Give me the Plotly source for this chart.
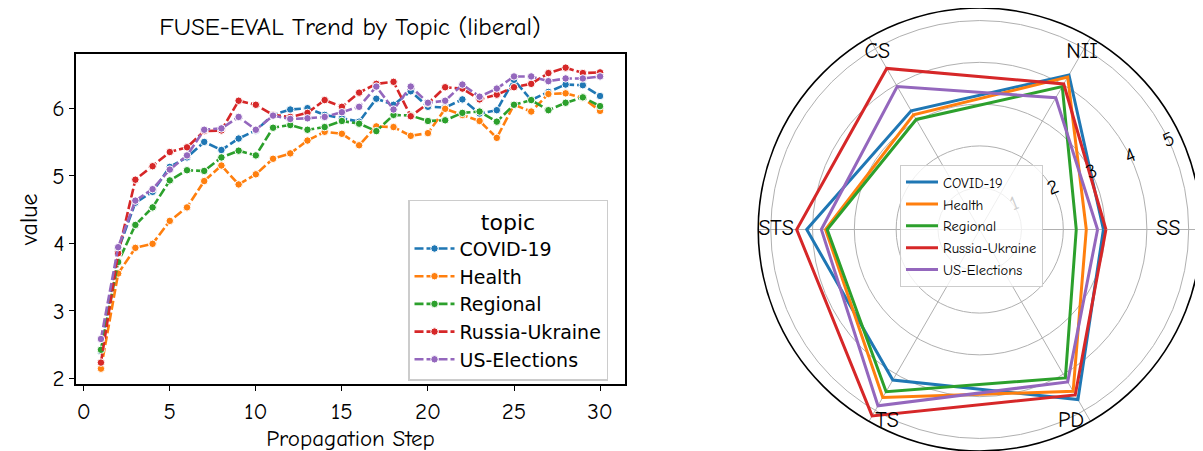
import plotly.graph_objects as go

# ---------------- data ----------------
steps = list(range(1, 31))
topics = ["COVID-19", "Health", "Regional", "Russia-Ukraine", "US-Elections"]
colors = ["#1f77b4", "#ff7f0e", "#2ca02c", "#d62728", "#9467bd"]

covid = [2.40, 3.90, 4.60, 4.76, 5.13, 5.27, 5.50, 5.38, 5.55, 5.67,
         5.90, 5.98, 6.00, 5.90, 5.85, 5.80, 6.14, 6.05, 6.25, 6.02,
         6.01, 6.13, 5.92, 5.97, 6.42, 6.12, 6.24, 6.35, 6.34, 6.18]
health = [2.14, 3.55, 3.93, 3.99, 4.33, 4.53, 4.92, 5.15, 4.87, 5.02,
          5.25, 5.33, 5.52, 5.65, 5.62, 5.45, 5.73, 5.72, 5.59, 5.63,
          5.99, 5.90, 5.81, 5.56, 6.05, 5.95, 6.21, 6.22, 6.15, 5.96]
regional = [2.42, 3.72, 4.27, 4.53, 4.93, 5.08, 5.07, 5.27, 5.37, 5.30,
            5.71, 5.75, 5.68, 5.72, 5.81, 5.77, 5.66, 5.90, 5.89, 5.81,
            5.82, 5.93, 5.95, 5.80, 6.05, 6.12, 5.97, 6.08, 6.16, 6.03]
russia = [2.23, 3.85, 4.94, 5.14, 5.35, 5.42, 5.66, 5.67, 6.11, 6.05,
          5.90, 5.87, 5.93, 6.12, 6.02, 6.23, 6.36, 6.39, 5.88, 6.07,
          6.31, 6.29, 6.13, 6.20, 6.31, 6.36, 6.52, 6.60, 6.52, 6.53]
uselect = [2.58, 3.94, 4.63, 4.80, 5.09, 5.30, 5.68, 5.70, 5.87, 5.68,
           5.89, 5.84, 5.85, 5.87, 5.94, 6.02, 6.32, 5.98, 6.32, 6.08,
           6.11, 6.35, 6.17, 6.29, 6.47, 6.47, 6.40, 6.44, 6.44, 6.47]
trend_series = [covid, health, regional, russia, uselect]

x_ticks = [0, 5, 10, 15, 20, 25, 30]
y_ticks = [2, 3, 4, 5, 6]

radar_cats = ["SS", "NII", "CS", "STS", "TS", "PD"]
radar_covid = [2.96, 4.27, 3.28, 4.14, 4.16, 4.70]
radar_health = [2.55, 4.21, 3.17, 3.69, 4.64, 4.47]
radar_regional = [2.31, 3.95, 3.04, 3.65, 4.48, 4.10]
radar_russia = [3.02, 4.02, 4.45, 4.38, 5.15, 4.57]
radar_us = [2.82, 3.64, 3.95, 3.79, 4.87, 4.21]
radar_series = [radar_covid, radar_health, radar_regional, radar_russia, radar_us]
radar_ticks = [1, 2, 3, 4, 5]
radar_label_r = [4.8, 4.9, 4.9, 5.3, 5.0, 5.0]
radar_label_pos = ["middle left", "middle center", "middle center",
                   "middle right", "bottom right", "bottom left"]

FONT = "Comic Sans MS, Comic Neue, DejaVu Sans, sans-serif"

fig = go.Figure()

# ---------------- line chart ----------------
for name, col, ys in zip(topics, colors, trend_series):
    fig.add_trace(go.Scatter(
        x=steps, y=ys, name=name, mode="lines+markers",
        line=dict(color=col, width=2.6, dash="9px,3px"),
        marker=dict(color=col, size=7.5, line=dict(color="white", width=1)),
        xaxis="x", yaxis="y", legend="legend",
    ))

# ---------------- radar ----------------
for name, col, rs in zip(topics, colors, radar_series):
    fig.add_trace(go.Scatterpolar(
        r=rs + rs[:1], theta=radar_cats + radar_cats[:1], name=name,
        mode="lines", line=dict(color=col, width=3),
        subplot="polar", legend="legend2",
    ))

fig.add_trace(go.Scatterpolar(
    r=radar_label_r, theta=radar_cats, text=radar_cats,
    mode="text", textposition=radar_label_pos, cliponaxis=False,
    textfont=dict(family=FONT, size=22, color="black"),
    showlegend=False, hoverinfo="skip", subplot="polar",
))

axis_common = dict(
    showgrid=False, zeroline=False, showline=True, linecolor="black",
    linewidth=1.6, mirror=True, ticks="outside", ticklen=5, tickwidth=1.4,
    tickcolor="black", tickfont=dict(family=FONT, size=23, color="black"),
)

fig.update_layout(
    width=1203, height=451,
    margin=dict(l=0, r=0, t=0, b=0),
    paper_bgcolor="white", plot_bgcolor="white",
    font=dict(family=FONT, color="black"),
    title=dict(text="FUSE-EVAL Trend by Topic (liberal)", x=342 / 1203,
               xanchor="center", y=1 - 18 / 451, yanchor="middle",
               font=dict(family=FONT, size=25, color="black")),
    xaxis=dict(domain=[68 / 1203, 617 / 1203], range=[-0.45, 31.45],
               tickvals=x_ticks, title=dict(text="Propagation Step",
               font=dict(family=FONT, size=23), standoff=0), **axis_common),
    yaxis=dict(domain=[1 - 383 / 451, 1 - 47 / 451], range=[1.91, 6.80],
               tickvals=y_ticks, title=dict(text="value",
               font=dict(family=FONT, size=24), standoff=8), **axis_common),
    legend=dict(
        x=400 / 1203, y=1 - 195 / 451, xanchor="left", yanchor="top",
        bgcolor="rgba(255,255,255,0.8)", bordercolor="#cccccc", borderwidth=1.5,
        title=dict(text="topic", side="top center",
                   font=dict(family="DejaVu Sans", size=22)),
        font=dict(family="DejaVu Sans", size=19), itemwidth=40,
    ),
    legend2=dict(
        x=892 / 1203, y=1 - 160 / 451, xanchor="left", yanchor="top",
        bgcolor="rgba(255,255,255,0.8)", bordercolor="#cccccc", borderwidth=1,
        font=dict(family=FONT, size=14.5), itemwidth=32,
    ),
    polar=dict(
        domain=dict(x=[0.6199, 0.9956], y=[0, 1]),
        bgcolor="white",
        angularaxis=dict(type="category", categoryarray=radar_cats,
                         rotation=0, direction="counterclockwise",
                         showticklabels=False, ticks="", showgrid=True,
                         gridcolor="#b0b0b0", gridwidth=1.2,
                         showline=True, linecolor="black", linewidth=1.6),
        radialaxis=dict(range=[0, 5.3], tickvals=radar_ticks, angle=22.5,
                        side="counterclockwise",
                        showline=False, ticks="", showgrid=True,
                        gridcolor="#b0b0b0", gridwidth=1.2,
                        tickfont=dict(family=FONT, size=20, color="black")),
    ),
)

fig.write_html("out.html")
